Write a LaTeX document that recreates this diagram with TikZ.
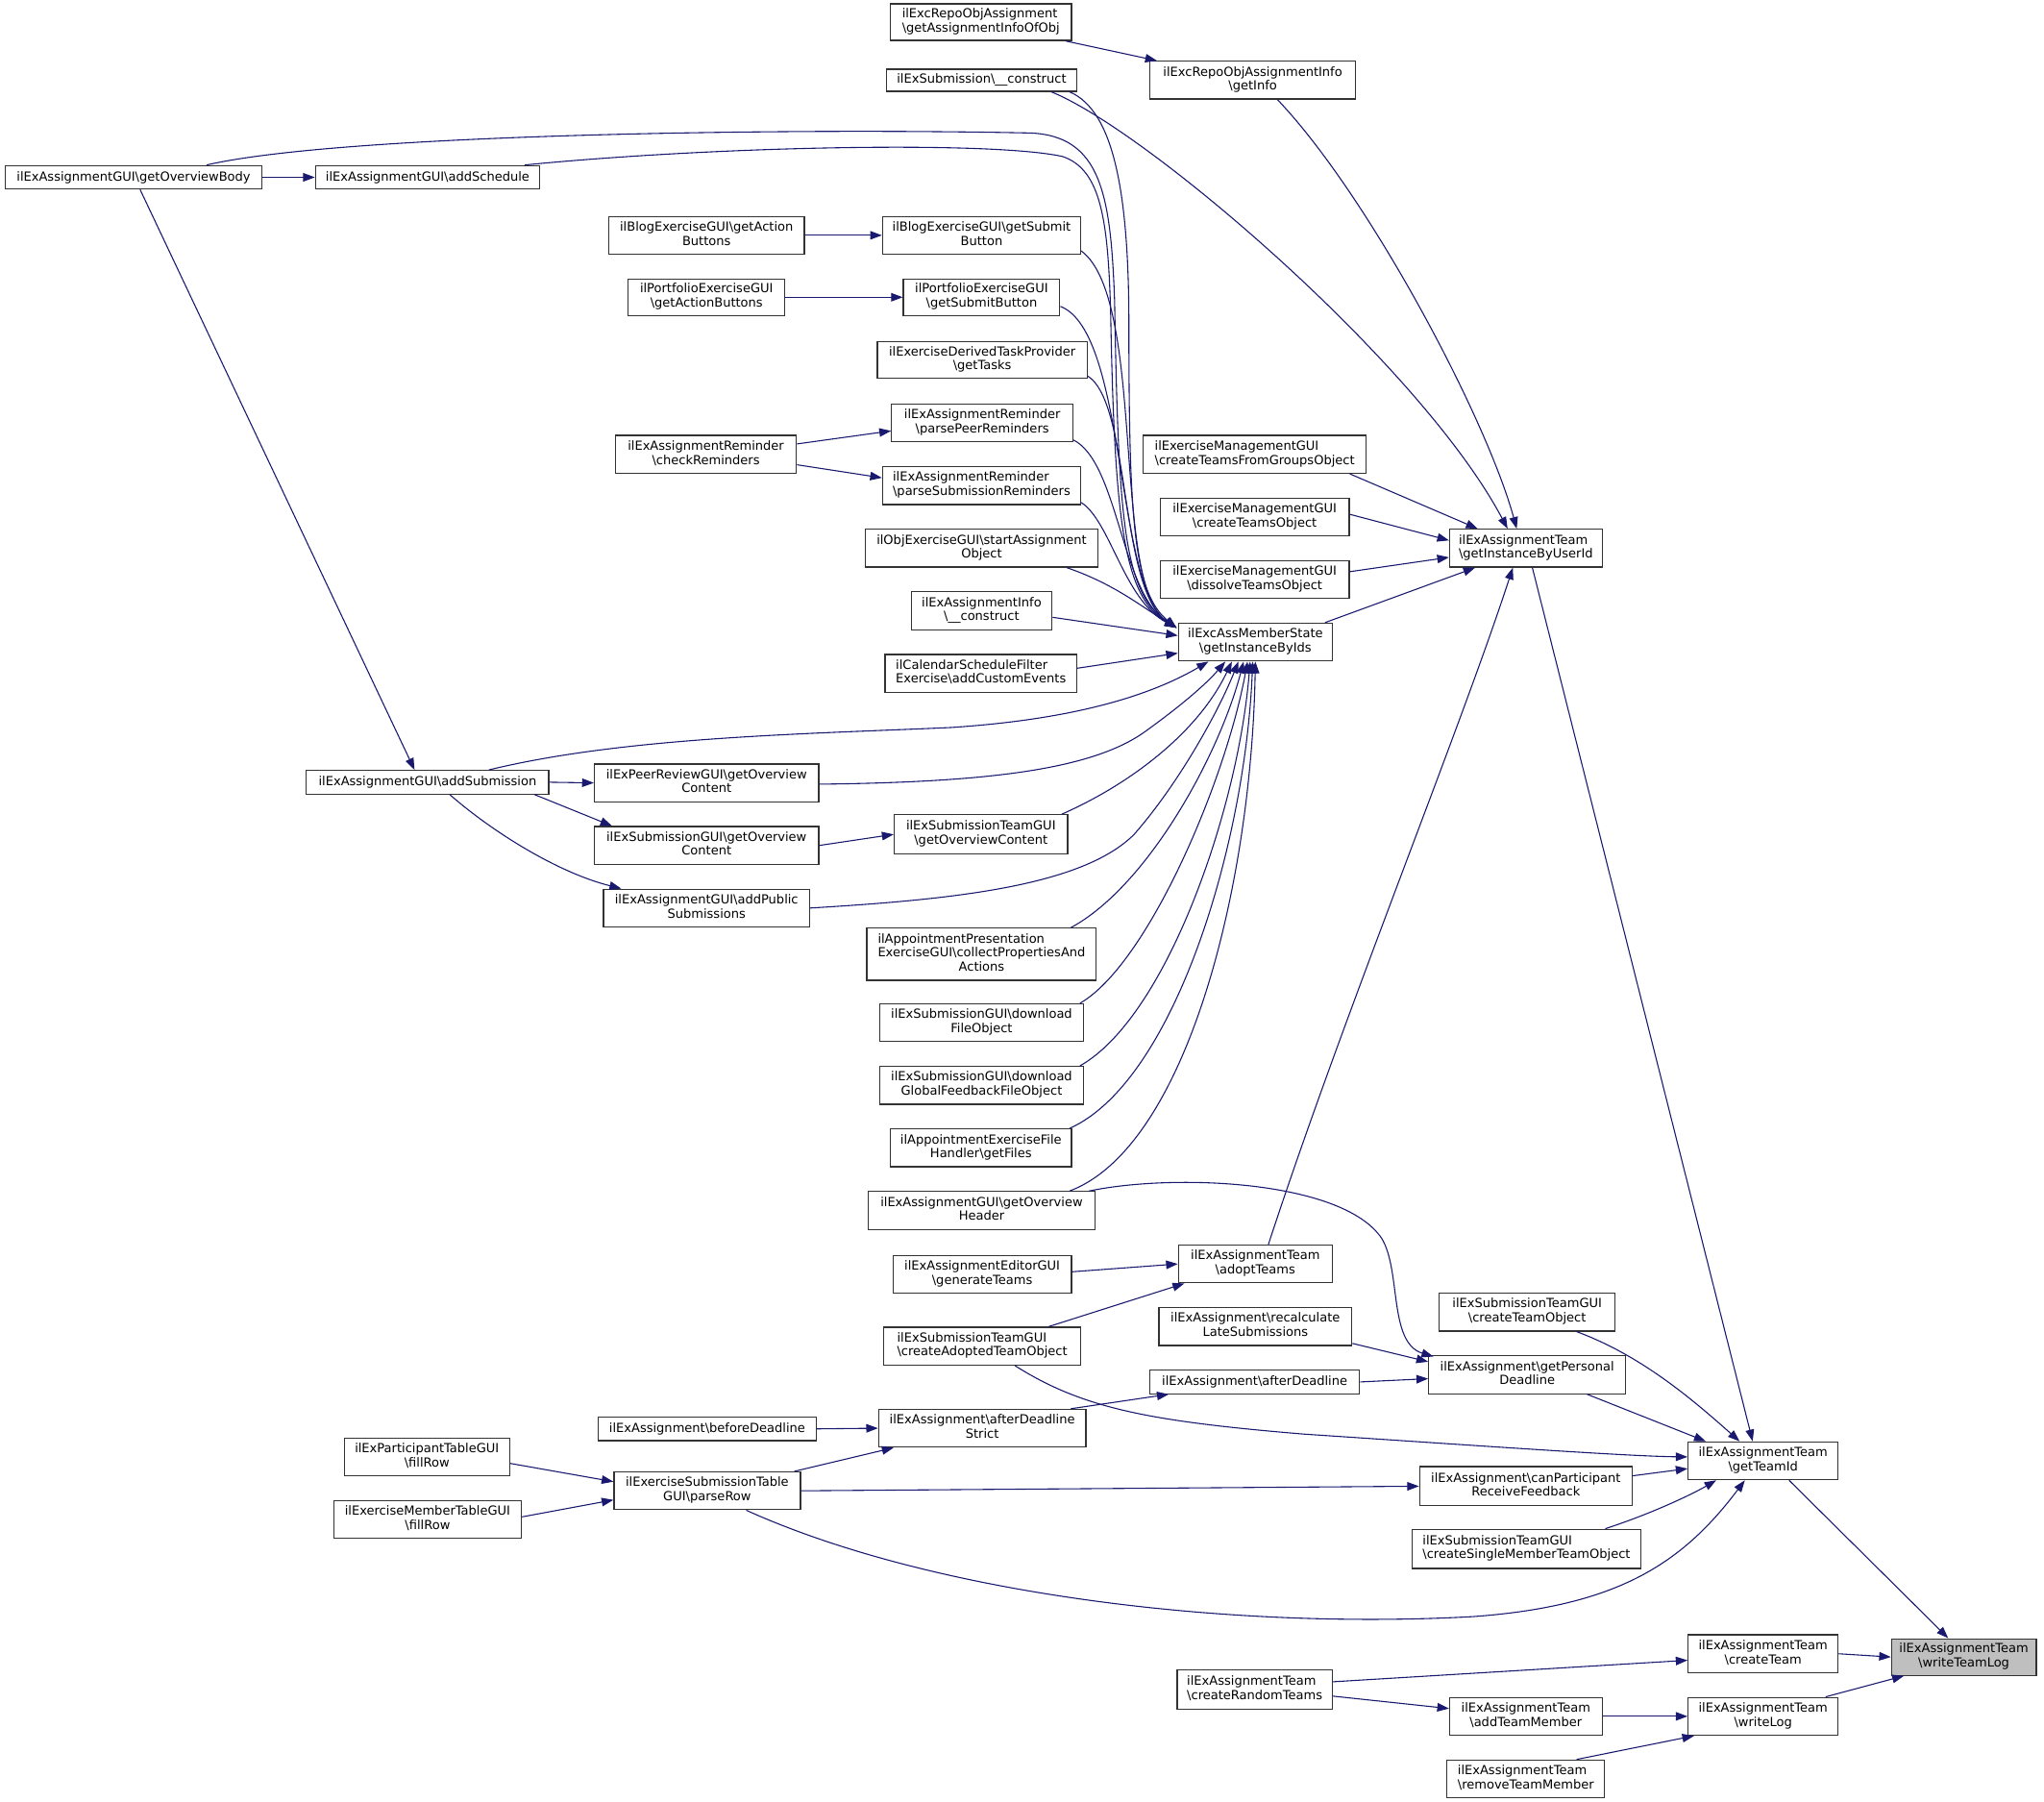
\documentclass[tikz,border=0pt]{standalone}
\usepackage{fontspec}
\setmainfont{DejaVu Sans}
\usetikzlibrary{arrows.meta,calc}
\definecolor{edgecol}{HTML}{191970}
\definecolor{rootfill}{HTML}{BFBFBF}
\definecolor{boxline}{HTML}{333333}
\newcommand\bsl{\textbackslash}
\newlength\lwA \newlength\lwB
\newcommand\dlab[2]{\settowidth\lwA{#1}\settowidth\lwB{#2}\ifdim\lwB>\lwA\setlength\lwA{\lwB}\fi\begin{tabular}{@{}c@{}}\makebox[\lwA][l]{#1}\\#2\end{tabular}}
\newcommand\tlab[3]{\settowidth\lwA{#2}\begin{tabular}{@{}c@{}}\makebox[\lwA][l]{#1}\\#2\\#3\end{tabular}}
\newcommand\gnode[7][]{\pgfmathsetmacro\ndw{#5-#3}\pgfmathsetmacro\ndh{#6-#4}\pgfmathsetmacro\ndx{(#3+#5)/2}\pgfmathsetmacro\ndy{(#4+#6)/2}\node[box,#1,minimum width=\ndw pt,minimum height=\ndh pt] (#2) at (\ndx,\ndy) {#7};}
\tikzset{
  box/.style={draw=boxline, line width=0.9pt, fill=white, inner sep=0pt, font=\fontsize{9.6}{10.8}\selectfont},
  e/.style={draw=edgecol, line width=0.8pt, -{Triangle[length=9pt,width=6.5pt]}}
}
\begin{document}
\begin{tikzpicture}[x=1pt,y=-1pt]
\useasboundingbox[fill=white] (0,0) rectangle (1568,1382);
\gnode{n1}{683}{3}{822}{31}{\dlab{ilExcRepoObjAssignment}{\bsl{}getAssignmentInfoOfObj}}
\gnode{n2}{882}{47}{1040}{76}{\dlab{ilExcRepoObjAssignmentInfo}{\bsl{}getInfo}}
\gnode{n3}{680}{53}{826}{70}{ilExSubmission\bsl{}\_\_construct}
\gnode{n4}{4}{127}{201}{145}{ilExAssignmentGUI\bsl{}getOverviewBody}
\gnode{n5}{242}{127}{414}{145}{ilExAssignmentGUI\bsl{}addSchedule}
\gnode{n6}{467}{166}{617}{195}{\dlab{ilBlogExerciseGUI\bsl{}getAction}{Buttons}}
\gnode{n7}{677}{166}{829}{195}{\dlab{ilBlogExerciseGUI\bsl{}getSubmit}{Button}}
\gnode{n8}{482}{214}{602}{242}{\dlab{ilPortfolioExerciseGUI}{\bsl{}getActionButtons}}
\gnode{n9}{693}{214}{813}{242}{\dlab{ilPortfolioExerciseGUI}{\bsl{}getSubmitButton}}
\gnode{n10}{673}{262}{834}{290}{\dlab{ilExerciseDerivedTaskProvider}{\bsl{}getTasks}}
\gnode{n11}{472}{334}{611}{363}{\dlab{ilExAssignmentReminder}{\bsl{}checkReminders}}
\gnode{n12}{684}{310}{823}{339}{\dlab{ilExAssignmentReminder}{\bsl{}parsePeerReminders}}
\gnode{n13}{677}{358}{829}{387}{\dlab{ilExAssignmentReminder}{\bsl{}parseSubmissionReminders}}
\gnode{n14}{664}{406}{842}{435}{\dlab{ilObjExerciseGUI\bsl{}startAssignment}{Object}}
\gnode{n15}{699}{454}{807}{483}{\dlab{ilExAssignmentInfo}{\bsl{}\_\_construct}}
\gnode{n16}{679}{502}{826}{531}{\dlab{ilCalendarScheduleFilter}{Exercise\bsl{}addCustomEvents}}
\gnode{n17}{904}{478}{1022}{507}{\dlab{ilExcAssMemberState}{\bsl{}getInstanceByIds}}
\gnode{n18}{877}{334}{1048}{363}{\dlab{ilExerciseManagementGUI}{\bsl{}createTeamsFromGroupsObject}}
\gnode{n19}{890}{382}{1035}{411}{\dlab{ilExerciseManagementGUI}{\bsl{}createTeamsObject}}
\gnode{n20}{890}{430}{1035}{459}{\dlab{ilExerciseManagementGUI}{\bsl{}dissolveTeamsObject}}
\gnode{n21}{1112}{406}{1229}{435}{\dlab{ilExAssignmentTeam}{\bsl{}getInstanceByUserId}}
\gnode{n22}{235}{591}{421}{609}{ilExAssignmentGUI\bsl{}addSubmission}
\gnode{n23}{456}{586}{628}{615}{\dlab{ilExPeerReviewGUI\bsl{}getOverview}{Content}}
\gnode{n24}{456}{634}{628}{663}{\dlab{ilExSubmissionGUI\bsl{}getOverview}{Content}}
\gnode{n25}{686}{625}{819}{655}{\dlab{ilExSubmissionTeamGUI}{\bsl{}getOverviewContent}}
\gnode{n26}{463}{682}{621}{711}{\dlab{ilExAssignmentGUI\bsl{}addPublic}{Submissions}}
\gnode{n27}{665}{712}{841}{752}{\tlab{ilAppointmentPresentation}{ExerciseGUI\bsl{}collectPropertiesAnd}{Actions}}
\gnode{n28}{675}{770}{831}{799}{\dlab{ilExSubmissionGUI\bsl{}download}{FileObject}}
\gnode{n29}{675}{818}{831}{847}{\dlab{ilExSubmissionGUI\bsl{}download}{GlobalFeedbackFileObject}}
\gnode{n30}{683}{866}{822}{895}{\dlab{ilAppointmentExerciseFile}{Handler\bsl{}getFiles}}
\gnode{n31}{666}{914}{840}{943}{\dlab{ilExAssignmentGUI\bsl{}getOverview}{Header}}
\gnode{n32}{904}{955}{1022}{984}{\dlab{ilExAssignmentTeam}{\bsl{}adoptTeams}}
\gnode{n33}{685}{963}{822}{992}{\dlab{ilExAssignmentEditorGUI}{\bsl{}generateTeams}}
\gnode{n34}{678}{1018}{829}{1047}{\dlab{ilExSubmissionTeamGUI}{\bsl{}createAdoptedTeamObject}}
\gnode{n35}{889}{1003}{1037}{1032}{\dlab{ilExAssignment\bsl{}recalculate}{LateSubmissions}}
\gnode{n36}{1104}{992}{1239}{1021}{\dlab{ilExSubmissionTeamGUI}{\bsl{}createTeamObject}}
\gnode{n37}{1096}{1040}{1247}{1069}{\dlab{ilExAssignment\bsl{}getPersonal}{Deadline}}
\gnode{n38}{882}{1051}{1043}{1069}{ilExAssignment\bsl{}afterDeadline}
\gnode{n39}{674}{1081}{833}{1110}{\dlab{ilExAssignment\bsl{}afterDeadline}{Strict}}
\gnode{n40}{459}{1087}{626}{1105}{ilExAssignment\bsl{}beforeDeadline}
\gnode{n41}{264}{1103}{391}{1132}{\dlab{ilExParticipantTableGUI}{\bsl{}fillRow}}
\gnode{n42}{471}{1129}{614}{1158}{\dlab{ilExerciseSubmissionTable}{GUI\bsl{}parseRow}}
\gnode{n43}{256}{1151}{400}{1180}{\dlab{ilExerciseMemberTableGUI}{\bsl{}fillRow}}
\gnode{n44}{1089}{1125}{1252}{1155}{\dlab{ilExAssignment\bsl{}canParticipant}{ReceiveFeedback}}
\gnode{n45}{1295}{1106}{1410}{1135}{\dlab{ilExAssignmentTeam}{\bsl{}getTeamId}}
\gnode{n46}{1083}{1173}{1259}{1203}{\dlab{ilExSubmissionTeamGUI}{\bsl{}createSingleMemberTeamObject}}
\gnode{n47}{1295}{1254}{1410}{1283}{\dlab{ilExAssignmentTeam}{\bsl{}createTeam}}
\gnode[fill=rootfill]{n48}{1451}{1257}{1562}{1285}{\dlab{ilExAssignmentTeam}{\bsl{}writeTeamLog}}
\gnode{n49}{903}{1281}{1022}{1311}{\dlab{ilExAssignmentTeam}{\bsl{}createRandomTeams}}
\gnode{n50}{1112}{1302}{1229}{1331}{\dlab{ilExAssignmentTeam}{\bsl{}addTeamMember}}
\gnode{n51}{1295}{1302}{1410}{1331}{\dlab{ilExAssignmentTeam}{\bsl{}writeLog}}
\gnode{n52}{1110}{1350}{1231}{1379}{\dlab{ilExAssignmentTeam}{\bsl{}removeTeamMember}}
\coordinate (T17) at ($(n17.north west)+(-1,4)$);
% top part
\draw[e] ($(n1.south east)+(-5,0)$) -- ($(n2.north west)+(6,0)$);
\draw[e] ($(n2.south)+(19,0)$) .. controls (1050,150) and (1140,320) .. ($(n21.north)+(-7,0)$);
\draw[e] ($(n3.south east)+(-20,0)$) .. controls (880,100) and (1090,280) .. ($(n21.north)+(-14,0)$);
\draw[e] ($(n3.south east)+(-6,0)$) .. controls (855,85) and (866,150) .. (866,250) .. controls (866,400) and (870,455) .. (T17);
\draw[e] (n4.east) -- (n5.west);
\draw[e] ($(n4.north)+(56,0)$) .. controls (260,103) and (600,98) .. (790,102) .. controls (845,104) and (852,150) .. (855,230) .. controls (858,400) and (862,455) .. (T17);
\draw[e] ($(n5.north east)+(-12,0)$) .. controls (550,112) and (760,108) .. (815,120) .. controls (845,130) and (850,170) .. (852,240) .. controls (855,400) and (862,458) .. (T17);
\draw[e] ($(n4.south)+(5,0)$) -- ($(n22.north)+(-10,0)$);
\draw[e] (n6.east) -- (n7.west);
\draw[e] ($(n7.south east)+(0,-3)$) .. controls (880,230) and (852,450) .. (T17);
\draw[e] (n8.east) -- (n9.west);
\draw[e] ($(n9.east)+(0,7)$) .. controls (865,255) and (855,450) .. (T17);
\draw[e] ($(n10.south east)+(0,-2)$) .. controls (868,310) and (858,452) .. (T17);
\draw[e] ($(n11.east)+(0,-8)$) -- ($(n12.west)+(0,6)$);
\draw[e] ($(n11.east)+(0,8)$) -- ($(n13.west)+(0,-6)$);
\draw[e] ($(n12.south east)+(0,-2)$) .. controls (858,355) and (860,455) .. (T17);
\draw[e] ($(n13.south east)+(0,-2)$) .. controls (852,400) and (862,460) .. (T17);
\draw[e] ($(n14.south east)+(-24,0)$) .. controls (855,448) and (875,465) .. (T17);
\draw[e] ($(n15.east)+(0,5)$) -- ($(n17.west)+(0,-5)$);
\draw[e] ($(n16.north east)+(0,11)$) -- ($(n17.west)+(0,8.5)$);
\draw[e] ($(n17.north east)+(-6,0)$) -- ($(n21.south west)+(20,0)$);
\draw[e] ($(n18.south east)+(-13,0)$) -- ($(n21.north west)+(22,0)$);
\draw[e] ($(n19.east)+(0,-2)$) -- ($(n21.west)+(0,-6)$);
\draw[e] ($(n20.east)+(0,-6)$) -- ($(n21.west)+(0,7)$);
\draw[e] ($(n21.south)+(5,0)$) -- ($(n45.north)+(-8,0)$);
% middle part
\draw[e] ($(n22.north)+(47,0)$) .. controls (480,565) and (620,563) .. (730,558) .. controls (820,552) and (880,535) .. ($(n17.south)+(-36,0)$);
\draw[e] (n22.east) -- (n23.west);
\draw[e] ($(n22.south)+(82,0)$) -- ($(n24.north west)+(14,0)$);
\draw[e] ($(n22.south)+(17,0)$) .. controls (380,640) and (430,670) .. ($(n26.north west)+(14,0)$);
\draw[e] ($(n23.east)+(0,1)$) .. controls (760,600) and (840,590) .. (880,560) .. controls (905,542) and (925,525) .. ($(n17.south)+(-23,0)$);
\draw[e] (n24.east) -- (n25.west);
\draw[e] ($(n25.north east)+(-5,0)$) .. controls (870,600) and (920,560) .. ($(n17.south)+(-18,0)$);
\draw[e] (n26.east) .. controls (730,690) and (830,680) .. (870,640) .. controls (905,600) and (935,545) .. ($(n17.south)+(-13,0)$);
\draw[e] ($(n27.north east)+(-20,0)$) .. controls (880,680) and (935,580) .. ($(n17.south)+(-9,0)$);
\draw[e] ($(n28.north east)+(-3,0)$) .. controls (880,740) and (940,600) .. ($(n17.south)+(-6,0)$);
\draw[e] ($(n29.north east)+(-3,0)$) .. controls (895,780) and (950,620) .. ($(n17.south)+(-4,0)$);
\draw[e] ($(n30.north east)+(-2,0)$) .. controls (900,830) and (955,650) .. ($(n17.south)+(-2,0)$);
\draw[e] ($(n31.north east)+(-20,0)$) .. controls (910,880) and (960,680) .. (n17.south);
\draw[e] ($(n31.north east)+(-5,0)$) .. controls (900,900) and (1030,905) .. (1060,950) .. controls (1075,975) and (1065,1030) .. ($(n37.north west)+(4,1)$);
\draw[e] ($(n32.north)+(10,0)$) .. controls (1030,780) and (1120,560) .. ($(n21.south)+(-10,0)$);
\draw[e] ($(n33.east)+(0,-2)$) -- (n32.west);
\draw[e] ($(n34.north)+(51,0)$) -- ($(n32.south west)+(5,0)$);
\draw[e] ($(n34.south)+(25,0)$) .. controls (830,1080) and (880,1090) .. (1000,1100) .. controls (1150,1110) and (1250,1117) .. ($(n45.west)+(0,-3)$);
\draw[e] ($(n35.south east)+(0,-2)$) -- ($(n37.west)+(0,-10)$);
\draw[e] (n38.east) -- ($(n37.west)+(0,3)$);
\draw[e] ($(n39.north east)+(-12,0)$) -- ($(n38.south west)+(15,0)$);
\draw[e] (n40.east) -- (n39.west);
\draw[e] ($(n42.north east)+(-5,0)$) -- ($(n39.south west)+(12,0)$);
\draw[e] ($(n41.east)+(0,5)$) -- ($(n42.west)+(0,-7)$);
\draw[e] ($(n43.east)+(0,-2)$) -- ($(n42.west)+(0,7)$);
\draw[e] (n42.east) -- (n44.west);
\draw[e] ($(n42.south)+(30,0)$) .. controls (720,1225) and (950,1250) .. (1130,1240) .. controls (1240,1232) and (1290,1200) .. ($(n45.south)+(-14,0)$);
\draw[e] ($(n36.south east)+(-30,0)$) .. controls (1260,1040) and (1300,1075) .. ($(n45.north)+(-18,0)$);
\draw[e] ($(n37.south east)+(-30,0)$) -- ($(n45.north west)+(14,0)$);
\draw[e] ($(n44.east)+(0,-8)$) -- ($(n45.west)+(0,6)$);
\draw[e] ($(n46.north east)+(-28,0)$) .. controls (1270,1160) and (1300,1145) .. ($(n45.south west)+(22,0)$);
% bottom part
\draw[e] ($(n45.south east)+(-38,0)$) -- ($(n48.north)+(-12,0)$);
\draw[e] (n47.east) -- (n48.west);
\draw[e] ($(n51.north east)+(-10,0)$) -- ($(n48.south west)+(10,0)$);
\draw[e] ($(n49.east)+(0,-6)$) -- ($(n47.west)+(0,5)$);
\draw[e] ($(n49.east)+(0,5)$) -- ($(n50.west)+(0,-6)$);
\draw[e] (n50.east) -- (n51.west);
\draw[e] ($(n52.north east)+(-22,0)$) -- ($(n51.south west)+(5,0)$);
\end{tikzpicture}
\end{document}
